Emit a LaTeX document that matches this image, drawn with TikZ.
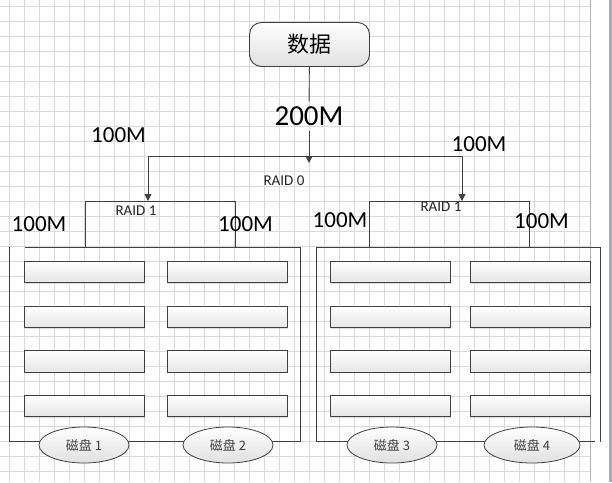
\documentclass[tikz,border=0pt]{standalone}
\usepackage{fontspec}
\setmainfont{Carlito}
\newfontfamily\cjk{Noto Sans CJK SC}
\usetikzlibrary{arrows.meta,shapes.geometric,shadows}
\definecolor{gridgray}{HTML}{DADADA}
\definecolor{pageedge}{HTML}{A9ABB3}
\definecolor{linegray}{HTML}{404040}

\begin{document}
\begin{tikzpicture}[
    x=1pt, y=-1pt,
    >={Triangle[length=7pt,width=7pt]},
    gridline/.style={draw=gridgray, line width=0.6pt},
    line/.style={draw=linegray, line width=0.9pt},
    datanode/.style={draw=linegray, line width=0.9pt, rounded corners=12pt, minimum width=120pt, minimum height=44pt, top color=white, bottom color=black!12, font=\cjk\fontsize{22}{26}\selectfont},
    disk/.style={draw=linegray, line width=0.9pt, minimum width=120pt, minimum height=21.5pt, inner sep=0pt, top color=white, bottom color=black!10, drop shadow={shadow xshift=1.2pt, shadow yshift=-1.2pt, opacity=0.25}},
    drive/.style={ellipse, draw=linegray, line width=0.8pt, minimum width=90pt, minimum height=36pt, inner sep=0pt, top color=white, bottom color=black!12, text=black!75, font=\cjk\fontsize{13}{15}\selectfont},
    speed/.style={font=\fontsize{23}{26}\selectfont, inner sep=0pt},
    level/.style={font=\fontsize{15}{17}\selectfont, text=black!85, inner sep=0pt}
]
\useasboundingbox (0,0) rectangle (612,482);

% page grid
\fill[white] (0,0) rectangle (612,482);
\foreach \gx in {0,...,38}
    \draw[gridline] ({9.3+15*\gx},0) -- ({9.3+15*\gx},482);
\foreach \gy in {0,...,31}
    \draw[gridline] (0,{6.7+15*\gy}) -- (590,{6.7+15*\gy});
\draw[draw=black!30, line width=0.8pt] (590,0) -- (590,482);
\fill[pageedge] (609,0) rectangle (612,482);

% data source
\node[datanode] (data) at (309.5,44.5) {数据};
\node[font=\fontsize{29}{32}\selectfont, inner sep=5pt] (l200) at (309,116) {200M};
\coordinate (raid0tip) at (309,163);
\draw[line] (data) -- (l200);
\draw[line, ->] (l200) -- (raid0tip);

% RAID 0 bar
\coordinate (r0l) at (148,156);
\coordinate (r0r) at (462,156);
\draw[line] (r0l) -- (r0r);
\node[level] (raid0) at (284,181) {RAID 0};

% RAID 1 bars
\coordinate (r1a) at (148,201);
\coordinate (r1b) at (462,201);
\draw[line, ->] (r0l) -- (r1a);
\draw[line, ->] (r0r) -- (r1b);
\draw[line] (85,247) |- (235,201) -- (235,247);
\draw[line] (369,247) |- (529,201) -- (529,247);
\node[level] (raid1a) at (136,211) {RAID 1};
\node[level] (raid1b) at (441,207) {RAID 1};

% bandwidth labels
\node[speed] (l100a) at (118.5,135.5) {100M};
\node[speed] (l100b) at (479,144.5) {100M};
\node[speed] (l100c) at (39,224.5) {100M};
\node[speed] (l100d) at (245.5,224.5) {100M};
\node[speed] (l100e) at (340,220.5) {100M};
\node[speed] (l100f) at (541.5,221.5) {100M};

% mirror frames
\draw[line] (25,247) -- (300,247) -- (300,441) -- (9,441) -- (9,247);
\draw[line] (316,441) -- (316,247) -- (600,247) -- (600,442);
\draw[line] (316,441) -- (595,441);

% disk stripes
\foreach \col/\cx in {a/84,b/227,c/390,d/530}
    \foreach \row in {1,...,4}
        \node[disk] (\col\row) at (\cx,{272+44.7*(\row-1)}) {};

% drives
\node[drive] (drv1) at (84,445) {磁盘 1};
\node[drive] (drv2) at (228,445) {磁盘 2};
\node[drive] (drv3) at (392,445) {磁盘 3};
\node[drive, minimum width=96pt] (drv4) at (532,445) {磁盘 4};
\end{tikzpicture}
\end{document}
